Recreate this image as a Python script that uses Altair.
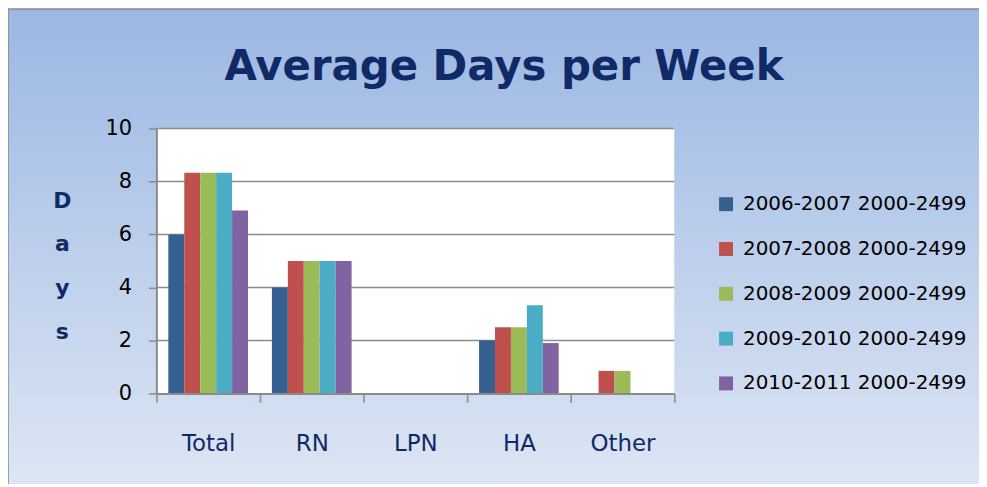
import altair as alt
import pandas as pd

categories = ["Total", "RN", "LPN", "HA", "Other"]
series = ["2006-2007 2000-2499", "2007-2008 2000-2499", "2008-2009 2000-2499",
          "2009-2010 2000-2499", "2010-2011 2000-2499"]
values = {
    "2006-2007 2000-2499": [6.0, 4.0, 0, 2.0, 0],
    "2007-2008 2000-2499": [8.33, 5.0, 0, 2.5, 0.85],
    "2008-2009 2000-2499": [8.33, 5.0, 0, 2.5, 0.85],
    "2009-2010 2000-2499": [8.33, 5.0, 0, 3.33, 0],
    "2010-2011 2000-2499": [6.9, 5.0, 0, 1.9, 0],
}
colors = ["#36608f", "#c0504d", "#9bbb59", "#4bacc6", "#8064a2"]
y_ticks = [0, 2, 4, 6, 8, 10]
grid_vals = [2, 4, 6, 8, 10]
title_text = "Average Days per Week"

rows = []
for s in series:
    for c, v in zip(categories, values[s]):
        rows.append({"category": c, "series": s, "value": v})
df = pd.DataFrame(rows)

W, H = 520, 266
PL, PT, PR, PB = 149, 120, 306, 90
FONT = "DejaVu Sans"
NAVY = "#0f2a66"

grad = alt.Gradient(
    gradient="linear",
    stops=[alt.GradientStop(offset=0, color="#9bb7e3"),
           alt.GradientStop(offset=1, color="#dfe7f4")],
    x1=0, x2=0, y1=0, y2=1,
)

bg = alt.Chart(alt.Data(values=[{"a": 1}])).mark_rect(
    fill=grad, stroke="#8a8a8a", strokeWidth=1.5
).encode(
    x=alt.value(-PL), x2=alt.value(W + PR + 20),
    y=alt.value(-PT), y2=alt.value(H + PB + 20),
)

plotbg = alt.Chart(alt.Data(values=[{"a": 1}])).mark_rect(fill="white").encode(
    x=alt.value(0), x2=alt.value(W), y=alt.value(0), y2=alt.value(H)
)

title = alt.Chart(alt.Data(values=[{"t": title_text}])).mark_text(
    font=FONT, fontSize=42, fontWeight="bold", color=NAVY,
    align="center", baseline="middle"
).encode(text="t:N", x=alt.value(W / 2 + 89), y=alt.value(-62))

yscale = alt.Scale(domain=[0, 10], nice=False)
yaxis = alt.Axis(values=y_ticks, grid=False, tickSize=8,
                 tickColor="#8a8a8a", tickWidth=1.5,
                 domainColor="#8a8a8a", domainWidth=2,
                 labelFont=FONT, labelFontSize=21, labelColor="black",
                 labelPadding=17,
                 title=["D", "a", "y", "s"], titleAngle=0,
                 titleFont=FONT, titleFontSize=22, titleFontWeight="bold",
                 titleColor=NAVY, titleLineHeight=44,
                 titleAlign="center", titleBaseline="top",
                 titleX=-95, titleY=62, zindex=1)

grid = alt.Chart(pd.DataFrame({"g": grid_vals})).mark_rule(
    color="#8c8c8c", strokeWidth=1.5
).encode(y=alt.Y("g:Q", scale=yscale, axis=yaxis))

bars = alt.Chart(df).transform_filter("datum.value > 0").mark_bar().encode(
    x=alt.X("category:N", sort=categories,
            scale=alt.Scale(domain=categories, paddingInner=0, paddingOuter=0),
            axis=alt.Axis(title=None, labelAngle=0, tickBand="extent",
                          labelFont=FONT, labelFontSize=23, labelColor=NAVY,
                          labelPadding=30, tickSize=9, tickColor="#8a8a8a",
                          tickWidth=1.5, domainColor="#8a8a8a", domainWidth=2,
                          zindex=1)),
    xOffset=alt.XOffset("series:N", sort=series,
                        scale=alt.Scale(domain=series, paddingInner=0,
                                        paddingOuter=0.75)),
    y=alt.Y("value:Q", scale=yscale, axis=yaxis),
    color=alt.Color("series:N", sort=series,
                    scale=alt.Scale(domain=series, range=colors),
                    legend=alt.Legend(title=None, orient="none", legendX=562,
                                      legendY=66, symbolType="square",
                                      symbolSize=196, symbolStrokeWidth=0,
                                      labelFont=FONT, labelFontSize=20,
                                      labelColor="black", rowPadding=25,
                                      labelOffset=7, labelLimit=400)),
)

chart = alt.layer(bg, plotbg, grid, bars, title).properties(
    width=W, height=H,
    padding={"left": PL, "top": PT, "right": PR, "bottom": PB},
    autosize=alt.AutoSizeParams(type="none"),
).configure_view(stroke=None).configure(background="white")

chart.save("out.html", embed_options={"renderer": "svg", "actions": False})
